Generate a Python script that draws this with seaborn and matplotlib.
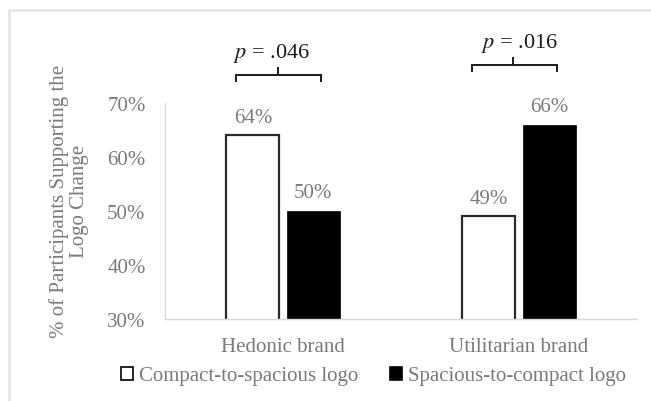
import matplotlib
matplotlib.use("Agg")
import matplotlib.pyplot as plt
import seaborn as sns
import pandas as pd
from matplotlib.patches import Rectangle, Patch

brands = ["Hedonic brand", "Utilitarian brand"]
conditions = ["Compact-to-spacious logo", "Spacious-to-compact logo"]
compact_to_spacious = [0.64, 0.49]
spacious_to_compact = [0.50, 0.66]
p_labels = [".046", ".016"]
y_ticks = [0.30, 0.40, 0.50, 0.60, 0.70]

df = pd.DataFrame({
    "brand": brands * 2,
    "condition": [conditions[0]] * 2 + [conditions[1]] * 2,
    "value": compact_to_spacious + spacious_to_compact,
})

sns.set_theme(style="white")
plt.rcParams["font.family"] = ["Liberation Serif", "DejaVu Serif"]

GRAY = "#7a7a7a"
DARK = "#1a1a1a"
FS = 15
fig = plt.figure(figsize=(6.51, 4.02), dpi=100)
ax = fig.add_axes([165 / 651, 1 - 320 / 402, (637 - 165) / 651, (320 - 104) / 402])

sns.barplot(data=df, x="brand", y="value", hue="condition", order=brands,
            hue_order=conditions, palette=["white", "black"], width=0.51,
            gap=0.12, ax=ax, legend=False)

for i, patch in enumerate(ax.patches):
    if i < 2:
        patch.set_edgecolor("#2b2b2b")
        patch.set_linewidth(1.6)
    else:
        patch.set_edgecolor("black")
        patch.set_linewidth(0.5)

ax.set_ylim(0.30, 0.70)
ax.set_xlim(-0.5, 1.5)
ax.set_yticks(y_ticks)
ax.set_yticklabels([f"{int(round(t * 100))}%" for t in y_ticks])
ax.tick_params(axis="both", length=0, labelsize=FS, colors=GRAY)
ax.tick_params(axis="y", pad=14)
ax.tick_params(axis="x", pad=13)
ax.set_xlabel("")
ax.set_ylabel("")
for s in ["top", "right"]:
    ax.spines[s].set_visible(False)
for s in ["left", "bottom"]:
    ax.spines[s].set_color("#d9d9d9")
    ax.spines[s].set_linewidth(1.0)

fig.text(69 / 651, 1 - 201 / 402, "% of Participants Supporting the\nLogo Change",
         rotation=90, ha="center", va="center", multialignment="center",
         fontsize=FS, color=GRAY, linespacing=1.05)

# value labels
for patch in ax.patches:
    h = patch.get_height()
    ax.text(patch.get_x() + patch.get_width() / 2, h + 0.025,
            f"{int(round(h * 100))}%", ha="center", va="baseline",
            fontsize=FS, color=GRAY)

# significance brackets (offsets relative to category centre)
bracket_y = [0.751, 0.770]
tick_dx = [-0.02, -0.025]
text_dx = [-0.051, 0.0]
for i, (pl, by) in enumerate(zip(p_labels, bracket_y)):
    x0, x1 = i - 0.20, i + 0.161
    xm = i + tick_dx[i]
    ax.plot([x0, x0, x1, x1], [by - 0.013, by, by, by - 0.013], color=DARK,
            lw=1.4, clip_on=False, solid_capstyle="butt", solid_joinstyle="miter")
    ax.plot([xm, xm], [by, by + 0.015], color=DARK, lw=1.4, clip_on=False,
            solid_capstyle="butt")
    ax.text(i + text_dx[i], by + 0.034, f"$p$ = {pl}", ha="center", va="baseline",
            fontsize=16, color=DARK, math_fontfamily="stix")

handles = [Patch(facecolor="white", edgecolor="black", linewidth=1.2),
           Patch(facecolor="black", edgecolor="black", linewidth=1.2)]
fig.legend(handles, conditions, loc="center", bbox_to_anchor=(373.5 / 651, 1 - 377 / 402),
           ncol=2, frameon=False, fontsize=FS, labelcolor=GRAY,
           handlelength=0.58, handleheight=0.58, handletextpad=0.32,
           columnspacing=1.5, borderpad=0, borderaxespad=0)

# light figure border
fig.add_artist(Rectangle((9 / 651, -0.1), 1.2, 1 - 11 / 402 + 0.1, transform=fig.transFigure,
                         fill=False, edgecolor="#e3e3e3", linewidth=1.8))

fig.savefig("out.png", dpi=100)
